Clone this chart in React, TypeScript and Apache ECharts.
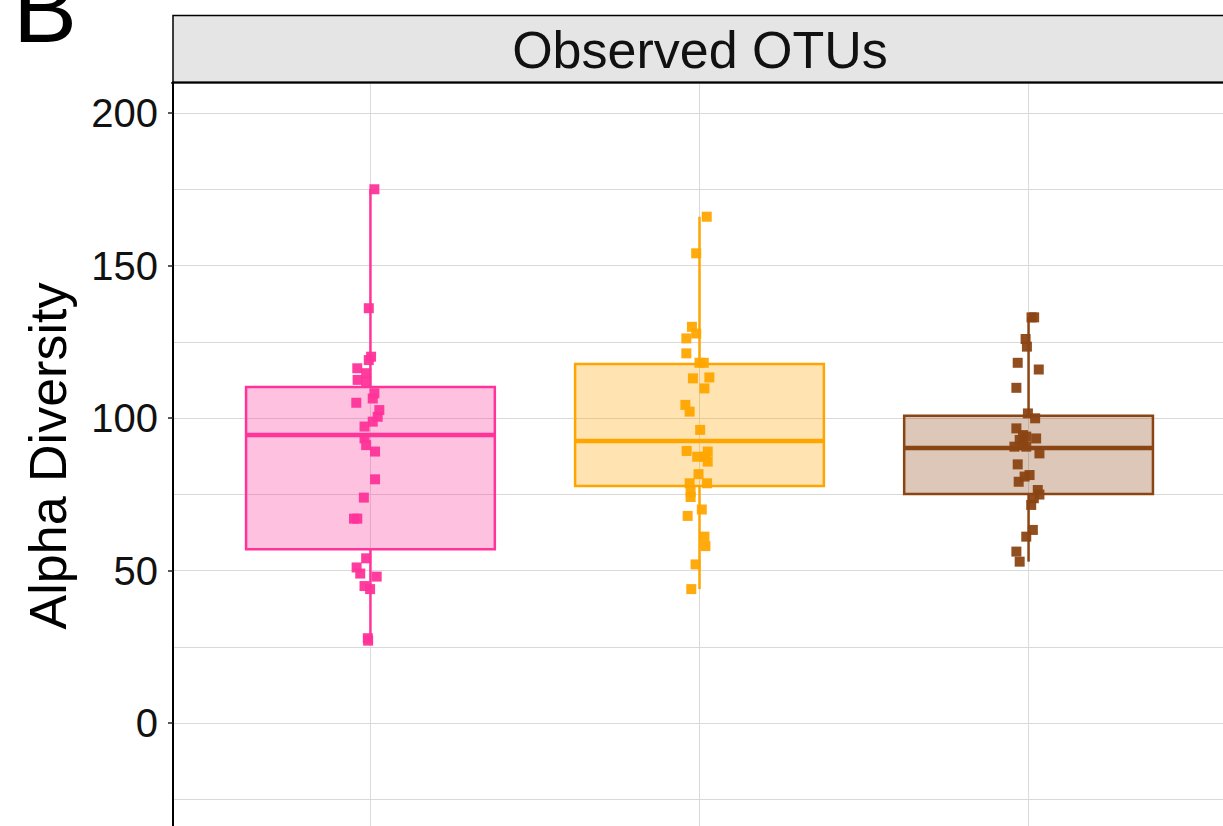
import React, { useEffect, useRef } from "react";
import * as echarts from "echarts";

const FONT = "'Liberation Sans', Arial, Helvetica, sans-serif";

// Group colours (stroke) and fill opacity
const groupColors = ["#FF3399", "#FFA500", "#8B4513"];
const groupFills = ["rgba(255,51,153,0.3)", "rgba(255,165,0,0.3)", "rgba(139,69,19,0.3)"];
const groupPos = [1, 2, 3];

// Box statistics: [low, q1, median, q3, high]
const boxLow = [27.0, 43.9, 52.9];
const boxQ1 = [57.0, 77.7, 75.1];
const boxMedian = [94.4, 92.5, 90.2];
const boxQ3 = [110.2, 117.7, 100.7];
const boxHigh = [175.0, 166.0, 133.0];
const boxHalfWidth = 0.378;

// Observations (alpha diversity) and their horizontal jitter
const pinkValues = [175.0, 136.0, 120.1, 119.0, 116.3, 114.7, 112.5, 111.9, 108.1, 106.4, 105.0, 102.6, 100.4, 98.8, 97.2, 93.3, 91.1, 89.0, 79.9, 73.9, 67.0, 67.0, 54.0, 51.0, 49.0, 48.0, 44.9, 43.9, 27.8, 27.0];
const pinkJitter = [0.012, -0.005, 0.002, -0.005, -0.04, -0.013, -0.039, -0.013, 0.012, 0.007, -0.043, 0.027, 0.022, 0.007, -0.018, -0.018, -0.013, 0.014, 0.014, -0.02, -0.05, -0.04, -0.013, -0.042, -0.031, 0.019, -0.018, -0.001, -0.008, -0.007];

const orangeValues = [166.0, 154.0, 129.9, 127.7, 126.1, 121.2, 118.1, 118.1, 113.0, 113.3, 109.7, 104.3, 102.1, 96.1, 89.2, 89.0, 87.3, 87.3, 85.7, 81.6, 78.6, 78.6, 75.8, 74.1, 70.0, 67.9, 61.1, 58.0, 52.0, 43.9];
const orangeJitter = [0.022, -0.01, -0.023, -0.01, -0.04, -0.04, 0.0, 0.013, -0.02, 0.03, 0.015, -0.043, -0.03, 0.002, -0.039, 0.025, -0.007, 0.017, 0.025, -0.003, -0.03, 0.023, -0.027, -0.027, 0.007, -0.036, 0.015, 0.018, -0.012, -0.025];

const brownValues = [133.0, 133.0, 125.9, 123.4, 118.1, 115.9, 109.9, 101.5, 99.9, 96.6, 94.4, 93.9, 93.3, 92.8, 91.1, 90.6, 90.6, 88.4, 84.8, 81.3, 80.8, 79.1, 76.4, 74.9, 73.7, 71.5, 63.3, 61.1, 56.2, 52.9];
const brownJitter = [0.009, 0.017, -0.009, -0.005, -0.033, 0.031, -0.037, -0.002, 0.02, -0.037, -0.017, -0.007, 0.023, -0.027, -0.017, -0.043, -0.007, 0.033, -0.033, 0.003, -0.012, -0.03, 0.028, 0.033, 0.016, 0.008, 0.013, -0.007, -0.037, -0.027];

const groupValues = [pinkValues, orangeValues, brownValues];
const groupJitter = [pinkJitter, orangeJitter, brownJitter];

const yTicksMajor = 50;
const yTicksMinor = 25;
const yMin = -50;
const yMax = 209.84;
const xMin = 0.4;
const xMax = 3.6;

const stripTitle = "Observed OTUs";
const yTitle = "Alpha Diversity";
const panelTag = "B";

export default function App() {
  const ref = useRef<HTMLDivElement>(null);
  useEffect(() => {
    if (!ref.current) return;
    const chart = echarts.init(ref.current, undefined, { renderer: "svg" });

    const boxData = groupPos.map((p, i) => [p, boxLow[i], boxQ1[i], boxMedian[i], boxQ3[i], boxHigh[i], i]);

    const scatterSeries = groupValues.map((vals, g) => ({
      type: "scatter",
      z: 5,
      symbol: "rect",
      symbolSize: 10,
      silent: true,
      itemStyle: { color: groupColors[g], opacity: 0.95 },
      data: vals.map((v, k) => [groupPos[g] + groupJitter[g][k], v]),
    }));

    const option: any = {
      animation: false,
      grid: { left: 173, top: 83, width: 1053, height: 792.5 },
      xAxis: { type: "value", min: xMin, max: xMax, show: false },
      yAxis: [
        {
          type: "value",
          min: yMin,
          max: yMax,
          interval: yTicksMajor,
          axisLine: { show: true, lineStyle: { color: "#000", width: 2 } },
          axisTick: { show: true, length: 5, lineStyle: { color: "#222", width: 1.5 } },
          axisLabel: {
            margin: 15,
            color: "#111",
            fontSize: 40,
            fontFamily: FONT,
            formatter: (v: number) =>
              v >= 0 && Math.abs(v / yTicksMajor - Math.round(v / yTicksMajor)) < 1e-6 ? String(Math.round(v)) : "",
          },
          splitLine: { show: true, lineStyle: { color: "#D9D9D9", width: 1 } },
        },
        {
          type: "value",
          position: "left",
          min: yMin,
          max: yMax,
          interval: yTicksMinor,
          axisLine: { show: false },
          axisTick: { show: false },
          axisLabel: { show: false },
          splitLine: { show: true, lineStyle: { color: "#D9D9D9", width: 1 } },
        },
      ],
      series: [
        {
          type: "custom",
          z: 1,
          silent: true,
          data: groupPos.map((p) => [p]),
          renderItem: (params: any, api: any) => {
            const x = api.value(0);
            const top = api.coord([x, yMax]);
            const bot = api.coord([x, yMin]);
            return {
              type: "line",
              shape: { x1: top[0], y1: top[1], x2: bot[0], y2: bot[1] },
              style: { stroke: "#D9D9D9", lineWidth: 1 },
            };
          },
        },
        {
          type: "custom",
          z: 2,
          silent: true,
          data: boxData,
          renderItem: (params: any, api: any) => {
            const x = api.value(0);
            const low = api.value(1);
            const q1 = api.value(2);
            const med = api.value(3);
            const q3 = api.value(4);
            const high = api.value(5);
            const gi = api.value(6);
            const color = groupColors[gi];
            const fill = groupFills[gi];
            const pLow = api.coord([x, low]);
            const pHigh = api.coord([x, high]);
            const pQ1 = api.coord([x, q1]);
            const pQ3 = api.coord([x, q3]);
            const leftTop = api.coord([x - boxHalfWidth, q3]);
            const rightBot = api.coord([x + boxHalfWidth, q1]);
            const medL = api.coord([x - boxHalfWidth, med]);
            const medR = api.coord([x + boxHalfWidth, med]);
            return {
              type: "group",
              children: [
                {
                  type: "line",
                  shape: { x1: pHigh[0], y1: pHigh[1], x2: pQ3[0], y2: pQ3[1] },
                  style: { stroke: color, lineWidth: 2.5 },
                },
                {
                  type: "line",
                  shape: { x1: pQ1[0], y1: pQ1[1], x2: pLow[0], y2: pLow[1] },
                  style: { stroke: color, lineWidth: 2.5 },
                },
                {
                  type: "rect",
                  shape: {
                    x: leftTop[0],
                    y: leftTop[1],
                    width: rightBot[0] - leftTop[0],
                    height: rightBot[1] - leftTop[1],
                  },
                  style: { fill: fill, stroke: color, lineWidth: 2.5 },
                },
                {
                  type: "line",
                  shape: { x1: medL[0], y1: medL[1], x2: medR[0], y2: medR[1] },
                  style: { stroke: color, lineWidth: 4.5 },
                },
              ],
            };
          },
        },
        ...scatterSeries,
      ],
      graphic: [
        {
          type: "rect",
          z: 100,
          shape: { x: 158, y: 76, width: 13, height: 12 },
          style: { fill: "#fff" },
        },
        {
          type: "rect",
          z: 100,
          shape: { x: 173, y: 15.5, width: 1100, height: 67 },
          style: { fill: "#E5E5E5", stroke: "#000", lineWidth: 1.5 },
        },
        {
          type: "line",
          z: 101,
          shape: { x1: 172, y1: 82.5, x2: 1260, y2: 82.5 },
          style: { stroke: "#000", lineWidth: 2 },
        },
        {
          type: "text",
          z: 102,
          x: 700,
          y: 50,
          style: {
            text: stripTitle,
            fontSize: 52,
            fontFamily: FONT,
            fill: "#111",
            align: "center",
            verticalAlign: "middle",
          },
        },
        {
          type: "text",
          z: 102,
          x: 47.7,
          y: 456,
          rotation: Math.PI / 2,
          style: {
            text: yTitle,
            fontSize: 52,
            fontFamily: FONT,
            fill: "#000",
            align: "center",
            verticalAlign: "middle",
          },
        },
        {
          type: "text",
          z: 102,
          x: 13,
          y: 8,
          style: {
            text: panelTag,
            fontSize: 96,
            fontFamily: FONT,
            fill: "#000",
            align: "left",
            verticalAlign: "middle",
          },
        },
      ],
    };

    chart.setOption(option);
    return () => chart.dispose();
  }, []);

  return (
    <div
      ref={ref}
      style={{ position: "absolute", left: 0, top: 0, width: 1260, height: 900, background: "#fff" }}
    />
  );
}
